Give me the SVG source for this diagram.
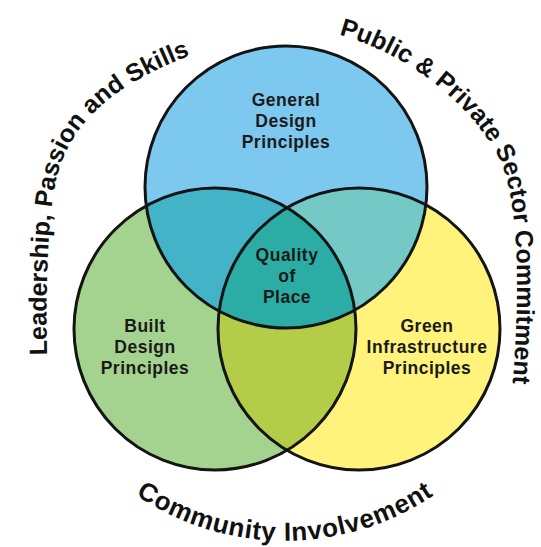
<svg xmlns="http://www.w3.org/2000/svg" xmlns:xlink="http://www.w3.org/1999/xlink" width="541" height="547" viewBox="0 0 541 547">
  <style>
    .ring { fill: none; stroke: #141414; stroke-width: 3; }
    .lbl { font-family: "Liberation Sans", Arial, sans-serif; font-weight: bold; font-size: 17.5px; letter-spacing: 0.5px; fill: #1a1a1a; text-anchor: middle; }
    .outer { font-family: "Liberation Sans", Arial, sans-serif; font-weight: bold; font-size: 25px; fill: #111111; }
  </style>
  <defs>
    <circle id="cTop" cx="286" cy="187" r="141"/>
    <circle id="cLeft" cx="215" cy="329" r="141"/>
    <circle id="cRight" cx="359" cy="329" r="141"/>
    <clipPath id="clipLeft"><use xlink:href="#cLeft"/></clipPath>
    <clipPath id="clipRight"><use xlink:href="#cRight"/></clipPath>
    <path id="arcLeft" d="M 47 362 C 46 300, 46 230, 56 180 C 70 120, 120 80, 200 52"/>
    <path id="arcRight" d="M 336 34 C 400 50, 470 100, 500 160 C 520 205, 520 300, 512 390"/>
    <path id="arcBottom" d="M 126 488 A 266 266 0 0 0 444 488"/>
  </defs>
  <rect width="541" height="547" fill="#ffffff"/>

  <g id="fills">
    <use xlink:href="#cTop" fill="#7dc8ee"/>
    <use xlink:href="#cLeft" fill="#a4d28f"/>
    <use xlink:href="#cRight" fill="#fff37c"/>
    <use xlink:href="#cTop" fill="#43b4c7" clip-path="url(#clipLeft)"/>
    <use xlink:href="#cTop" fill="#74c9c6" clip-path="url(#clipRight)"/>
    <use xlink:href="#cLeft" fill="#b3cd49" clip-path="url(#clipRight)"/>
    <g clip-path="url(#clipRight)">
      <use xlink:href="#cTop" fill="#2bada5" clip-path="url(#clipLeft)"/>
    </g>
  </g>

  <g id="general-design">
    <use xlink:href="#cTop" class="ring"/>
    <text class="lbl" x="286" y="105.5">General</text>
    <text class="lbl" x="286" y="126.5">Design</text>
    <text class="lbl" x="286" y="147.5">Principles</text>
  </g>
  <g id="built-design">
    <use xlink:href="#cLeft" class="ring"/>
    <text class="lbl" x="145" y="332">Built</text>
    <text class="lbl" x="145" y="353">Design</text>
    <text class="lbl" x="145" y="374">Principles</text>
  </g>
  <g id="green-infrastructure">
    <use xlink:href="#cRight" class="ring"/>
    <text class="lbl" x="427" y="332">Green</text>
    <text class="lbl" x="427" y="353">Infrastructure</text>
    <text class="lbl" x="427" y="374">Principles</text>
  </g>
  <g id="quality-of-place">
    <text class="lbl" x="287" y="261">Quality</text>
    <text class="lbl" x="287" y="282">of</text>
    <text class="lbl" x="287" y="303">Place</text>
  </g>

  <g id="outer-labels">
    <text class="outer"><textPath xlink:href="#arcLeft" startOffset="7">Leadership, Passion and Skills</textPath></text>
    <text class="outer"><textPath xlink:href="#arcRight" startOffset="3">Public &amp; Private Sector Commitment</textPath></text>
    <text class="outer" style="font-size:26px; letter-spacing:0.7px; text-anchor:middle"><textPath xlink:href="#arcBottom" startOffset="50%">Community Involvement</textPath></text>
  </g>
  <g id="connectors"/>
</svg>
